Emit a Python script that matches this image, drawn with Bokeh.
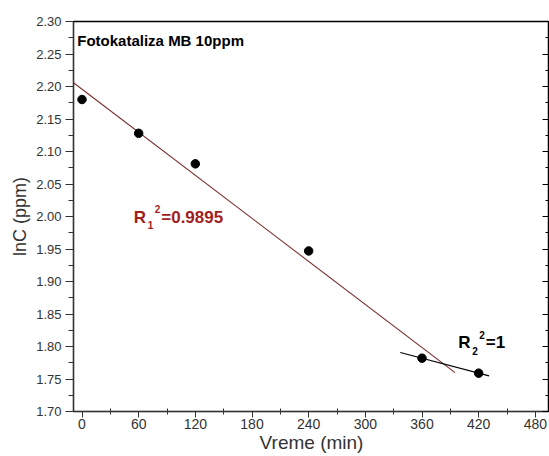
import numpy as np
from bokeh.plotting import figure
from bokeh.models import (ColumnDataSource, FixedTicker, PrintfTickFormatter,
                          LinearAxis, Label, Range1d)
from bokeh.embed import file_html
from bokeh.resources import INLINE

# ---- data ----
time_min = [0, 60, 120, 240, 360, 420]
lnC = [2.180, 2.128, 2.081, 1.947, 1.782, 1.759]

fit1_idx = [0, 1, 2, 3, 4]      # points used for first fit (R1^2=0.9895)
fit1_xspan = [-9, 395]
fit2_idx = [4, 5]               # points used for second fit (R2^2=1)
fit2_xspan = [337, 431]

x_ticks = [0, 60, 120, 180, 240, 300, 360, 420, 480]
x_minor = [30, 90, 150, 210, 270, 330, 390, 450]
y_ticks = [1.70, 1.75, 1.80, 1.85, 1.90, 1.95, 2.00, 2.05, 2.10, 2.15, 2.20, 2.25, 2.30]
y_minor = [1.725, 1.775, 1.825, 1.875, 1.925, 1.975, 2.025, 2.075, 2.125, 2.175, 2.225, 2.275]

title_text = "Fotokataliza MB 10ppm"
r1_value = "=0.9895"
r2_value = "=1"

FONT = "Liberation Sans"
RED = "#A01E1E"
AXC = "#333333"

p = figure(width=549, height=456, output_backend="svg", toolbar_location=None,
           x_range=Range1d(-9, 495), y_range=Range1d(1.70, 2.30),
           min_border_left=73, min_border_top=21, min_border_right=0,
           min_border_bottom=45)
p.background_fill_color = "white"
p.border_fill_color = "white"
p.grid.visible = False
p.outline_line_color = "black"
p.outline_line_width = 1.5

# x axis
xa = p.xaxis[0]
xa.ticker = FixedTicker(ticks=x_ticks, minor_ticks=x_minor)
xa.axis_label = "Vreme (min)"
xa.axis_label_text_font = FONT
xa.axis_label_text_font_style = "normal"
xa.axis_label_text_font_size = "19px"
xa.axis_label_text_color = AXC
xa.axis_label_standoff = 0
xa.major_label_text_font = FONT
xa.major_label_text_font_size = "14px"
xa.major_label_text_color = AXC
xa.major_label_standoff = 1
xa.major_tick_in = 0
xa.major_tick_out = 6
xa.minor_tick_in = 3
xa.minor_tick_out = 3
xa.axis_line_color = AXC
xa.major_tick_line_color = AXC
xa.minor_tick_line_color = AXC

# y axis
ya = p.yaxis[0]
ya.ticker = FixedTicker(ticks=y_ticks, minor_ticks=y_minor)
ya.formatter = PrintfTickFormatter(format="%.2f")
ya.axis_label = "lnC (ppm)"
ya.axis_label_text_font = FONT
ya.axis_label_text_font_style = "normal"
ya.axis_label_text_font_size = "18px"
ya.axis_label_text_color = AXC
ya.axis_label_standoff = 3
ya.major_label_text_font = FONT
ya.major_label_text_font_size = "13px"
ya.major_label_text_color = AXC
ya.major_label_standoff = 4
ya.major_tick_in = 0
ya.major_tick_out = 8
ya.minor_tick_in = 0
ya.minor_tick_out = 5
ya.axis_line_color = AXC
ya.major_tick_line_color = AXC
ya.minor_tick_line_color = AXC

# right axis: inward ticks only, labels not drawn
ra = LinearAxis(ticker=FixedTicker(ticks=y_ticks, minor_ticks=y_minor))
ra.major_label_text_font_size = "0px"
ra.major_label_text_color = None
ra.major_label_standoff = 0
ra.major_tick_in = 7
ra.major_tick_out = 0
ra.minor_tick_in = 4
ra.minor_tick_out = 0
ra.axis_line_color = "black"
p.add_layout(ra, "right")

# fits
x = np.array(time_min, dtype=float)
y = np.array(lnC, dtype=float)
m1, b1 = np.polyfit(x[fit1_idx], y[fit1_idx], 1)
m2, b2 = np.polyfit(x[fit2_idx], y[fit2_idx], 1)
fx1 = np.array(fit1_xspan, dtype=float)
fx2 = np.array(fit2_xspan, dtype=float)
p.line(fx1, m1 * fx1 + b1, line_color="#7A2E2E", line_width=1.1)
p.line(fx2, m2 * fx2 + b2, line_color="black", line_width=1.1)

# points
src = ColumnDataSource(dict(x=time_min, y=lnC))
p.scatter("x", "y", source=src, size=8.5, color="black")

# texts
p.add_layout(Label(x=-5, y=2.271, text=title_text, text_font=FONT,
                   text_font_style="bold", text_font_size="15px",
                   text_color="black", text_baseline="alphabetic"))

def r_label(x0, y0, sub, val, color):
    common = dict(text_font=FONT, text_font_style="bold", text_color=color,
                  text_baseline="alphabetic")
    p.add_layout(Label(x=x0, y=y0, text="R", text_font_size="17px", **common))
    p.add_layout(Label(x=x0, y=y0, x_offset=14, y_offset=-8, text=sub,
                       text_font_size="10px", **common))
    p.add_layout(Label(x=x0, y=y0, x_offset=21, y_offset=8, text="2",
                       text_font_size="10px", **common))
    p.add_layout(Label(x=x0, y=y0, x_offset=27.5, text=val,
                       text_font_size="17px", **common))

r_label(54.8, 1.999, "1", r1_value, RED)
r_label(398.5, 1.806, "2", r2_value, "black")

open("out.html", "w").write(file_html(p, INLINE))
